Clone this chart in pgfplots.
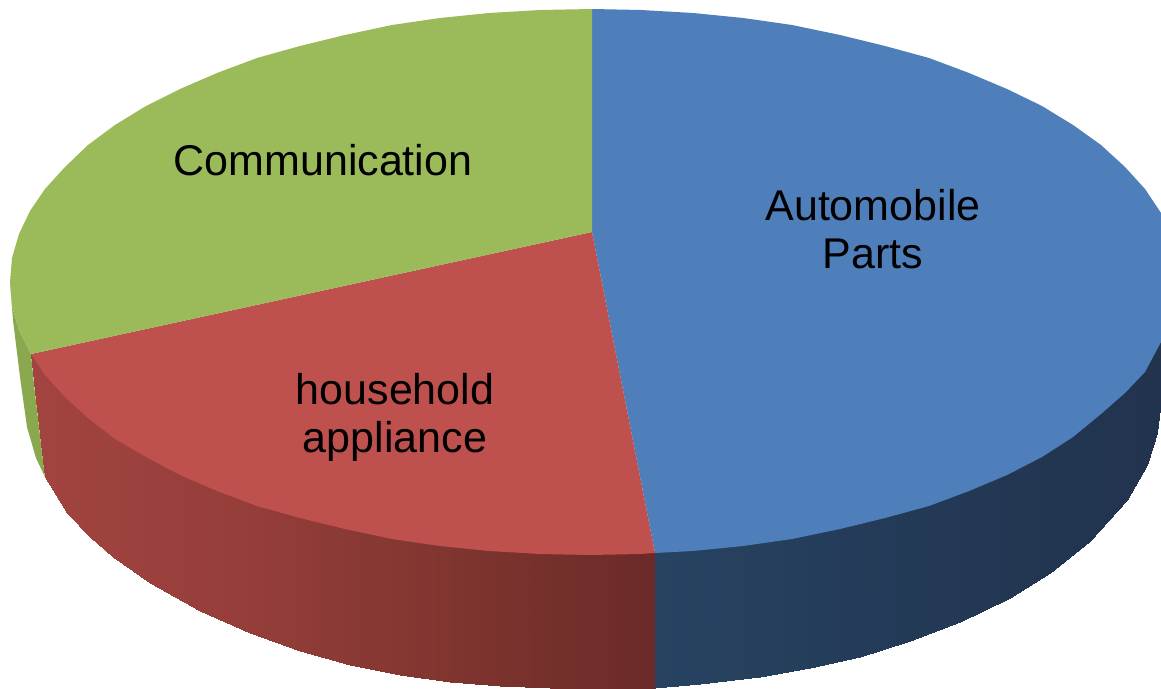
\documentclass[border=0pt]{standalone}
\usepackage{fontspec}
\setmainfont{Liberation Sans}
\usepackage{pgfplots}
\pgfplotsset{compat=1.18}
\usepgfplotslibrary{patchplots}

\definecolor{topblue}{RGB}{78,127,187}
\definecolor{topred}{RGB}{190,80,78}
\definecolor{topgreen}{RGB}{155,186,90}
\definecolor{sidegreen}{RGB}{138,168,78}

\begin{document}
\begin{tikzpicture}
\begin{axis}[
    scale only axis,
    width=1161pt, height=688pt,
    xmin=0, xmax=1161, ymin=0, ymax=688,
    y dir=reverse,
    hide axis,
    every axis plot/.append style={line width=0pt},
]

% white page, keeps the picture at the full size
\addplot[fill=white, draw=none] coordinates {(0,0)(1161,0)(1161,688)(0,688)} --cycle;

% side walls, drawn first: the top faces cover their upper edge
\addplot[fill=sidegreen, draw=none] coordinates {
    (10,282)(12,306)(19,330)(31,354)(35,393)(40,435)(45,477)(36,458)(27,427)(20,377)(13,320)
} --cycle;

\addplot[patch, patch type=rectangle, shader=interp, point meta=x,
    point meta rel=per plot,
    colormap={redside}{rgb255(0pt)=(162,68,64) rgb255(2pt)=(150,62,58) rgb255(4pt)=(128,53,47) rgb255(6pt)=(107,42,40)},
] coordinates {
    (31,354)(45,372)(45,477)(36,400)
    (45,372)(67,395)(67,513)(45,477)
    (67,395)(90,416)(90,537)(67,513)
    (90,416)(113,436)(113,557)(90,537)
    (113,436)(150,456)(150,583)(113,557)
    (150,456)(200,480)(200,611)(150,583)
    (200,480)(250,500)(250,633)(200,611)
    (250,500)(300,515)(300,651)(250,633)
    (300,515)(350,527)(350,665)(300,651)
    (350,527)(400,537)(400,675)(350,665)
    (400,537)(450,544)(450,682)(400,675)
    (450,544)(500,549)(500,686)(450,682)
    (500,549)(550,551)(550,688)(500,686)
    (550,551)(600,552)(600,688)(550,688)
    (600,552)(655,550)(655,688)(600,688)
};

\addplot[patch, patch type=rectangle, shader=interp, point meta=x,
    point meta rel=per plot,
    colormap={blueside}{rgb255(0pt)=(39,67,97) rgb255(1pt)=(35,58,87) rgb255(2pt)=(34,51,77)},
] coordinates {
    (655,550)(700,548)(700,684)(655,688)
    (700,548)(760,541)(760,677)(700,684)
    (760,541)(810,533)(810,668)(760,677)
    (810,533)(860,522)(860,657)(810,668)
    (860,522)(910,508)(910,641)(860,657)
    (910,508)(960,490)(960,622)(910,641)
    (960,490)(1010,468)(1010,598)(960,622)
    (1010,468)(1050,448)(1050,573)(1010,598)
    (1050,448)(1090,422)(1090,541)(1050,573)
    (1090,422)(1127,390)(1127,500)(1090,541)
    (1127,390)(1147,365)(1147,465)(1127,500)
    (1147,365)(1157,345)(1157,433)(1147,465)
    (1157,345)(1161,338)(1161,400)(1157,433)
};

% top faces
\addplot[fill=topblue, draw=none] coordinates {
    (592,232)(592,9)(641,10)(693,13)(743,18)(792,25)(840,35)(885,46)(929,58)(969,73)
    (1007,89)(1042,106)(1073,125)(1101,145)(1125,167)(1145,189)(1161,213)(1161,342)
    (1145,372)(1125,393)(1101,414)(1073,437)(1042,457)(1007,475)(969,491)(929,506)
    (885,518)(840,529)(792,539)(743,546)(693,551)(655,553)
} --cycle;

\addplot[fill=topred, draw=none] coordinates {
    (592,232)(655,553)(640,554)(590,555)(540,554)(489,551)(440,546)(392,539)(345,529)
    (300,518)(257,506)(217,491)(180,475)(146,457)(115,439)(88,418)(65,397)(45,375)(31,354)
} --cycle;

\addplot[fill=topgreen, draw=none] coordinates {
    (592,232)(31,354)(19,330)(12,306)(10,282)(12,258)(19,234)(30,211)(45,189)(65,167)
    (88,145)(115,125)(146,106)(180,89)(217,73)(257,58)(300,46)(345,35)(392,25)(440,18)
    (489,13)(540,10)(592,9)
} --cycle;

\node[font=\fontsize{43}{48}\selectfont, align=center, black] at (axis cs:323,160) {Communication};
\node[font=\fontsize{43}{48}\selectfont, align=center, black] at (axis cs:873,229) {Automobile\\Parts};
\node[font=\fontsize{43}{48}\selectfont, align=center, black] at (axis cs:395,417) {household\\appliance};

\end{axis}
\end{tikzpicture}
\end{document}
